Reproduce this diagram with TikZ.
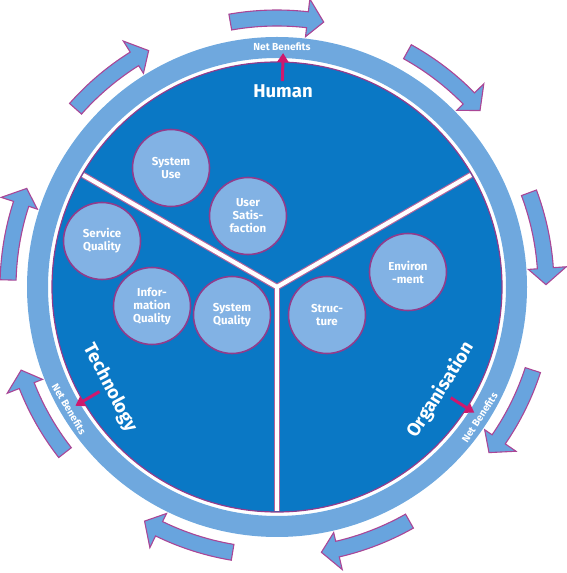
\documentclass[tikz,border=0pt]{standalone}
\usepackage{fontspec}
\setmainfont{Fira Sans}
\usetikzlibrary{arrows.meta,calc}
\definecolor{ringblue}{RGB}{111,168,222}
\definecolor{darkblue}{RGB}{10,120,197}
\definecolor{bubble}{RGB}{130,178,228}
\definecolor{edgepurple}{RGB}{145,60,140}
\definecolor{arrowfill}{RGB}{104,164,222}
\definecolor{arrowedge}{RGB}{170,70,150}
\definecolor{pinkarrow}{RGB}{205,25,110}
\tikzset{
  bubblenode/.style={circle, minimum size=77pt, inner sep=0pt, fill=bubble, draw=edgepurple, line width=1.6pt, text=white, align=center, font=\bfseries\fontsize{11.5}{13}\selectfont},
  sectorlabel/.style={text=white, font=\bfseries\fontsize{18.5}{20}\selectfont},
  netlabel/.style={text=white, font=\bfseries\fontsize{10.2}{11}\selectfont},
  bigarrow/.style={fill=arrowfill, draw=arrowedge, line width=1.1pt, line join=miter},
  pinkarr/.style={draw=pinkarrow, line width=3pt, -{Triangle[width=11pt,length=9pt]}},
  divider/.style={line width=6.5pt, draw=edgepurple!70!pink},
  dividerw/.style={line width=4.2pt, draw=white}
}
\begin{document}
\begin{tikzpicture}[x=1pt,y=1pt]
\useasboundingbox (0,0) rectangle (567,573);
\coordinate (C) at (277,286);
% outer ring
\fill[ringblue, even odd rule] (C) circle[radius=250pt] (C) circle[radius=229pt];
% inner disc
\fill[darkblue] (C) circle[radius=225pt];
\draw[edgepurple, line width=1.2pt] (C) circle[radius=225pt];
% dividers
\foreach \a in {150,30,270} {
  \coordinate (E\a) at ($(C)+(\a:224pt)$);
  \draw[divider] (C) -- (E\a);
}
\foreach \a in {150,30,270} {
  \draw[dividerw] (C) -- (E\a);
}
% curved arrows around
\begin{scope}[shift={(C)}]
\foreach \c in {90,51,10.5,-28,-70.5,-109.5,-152,168.5,128.5} {
  \pgfmathsetmacro\aone{\c+10}
  \pgfmathsetmacro\atwo{\c-10}
  \pgfmathsetmacro\ab{\c-6.5}
  \draw[bigarrow] (\aone:277pt) arc[start angle=\aone, end angle=\ab, radius=277pt]
     -- (\ab:290pt) -- (\atwo:269pt) -- (\ab:252pt) -- (\ab:261pt)
     arc[start angle=\ab, end angle=\aone, radius=261pt] -- cycle;
}
\end{scope}
% pink arrows
\foreach \a/\n in {88.5/t,210.5/l,-32.5/r} {
  \coordinate (P\n1) at ($(C)+(\a:206pt)$);
  \coordinate (P\n2) at ($(C)+(\a:234pt)$);
  \draw[pinkarr] (P\n1) -- (P\n2);
}
% net benefits labels
\node[netlabel] (nbt) at ($(C)+(88.8:240pt)$) {Net Benefits};
\node[netlabel, rotate=-59.6] (nbl) at ($(C)+(210.4:241pt)$) {Net Benefits};
\node[netlabel, rotate=57.2] (nbr) at ($(C)+(-32.8:241pt)$) {Net Benefits};
% sector labels
\node[sectorlabel] (human) at (283,482) {Human};
\node[sectorlabel, rotate=-62] (tech) at (110,185) {Technology};
\node[sectorlabel, rotate=58] (org) at (441,183) {Organisation};
% bubbles
\node[bubblenode] (su) at (171,405) {System\\Use};
\node[bubblenode] (us) at (248,357) {User\\Satis-\\faction};
\node[bubblenode] (sq) at (102,332) {Service\\Quality};
\node[bubblenode] (iq) at (152,267) {Infor-\\mation\\Quality};
\node[bubblenode] (syq) at (232,258) {System\\Quality};
\node[bubblenode] (st) at (327,258) {Struc-\\ture};
\node[bubblenode] (env) at (408,301) {Environ\\-ment};
\end{tikzpicture}
\end{document}
